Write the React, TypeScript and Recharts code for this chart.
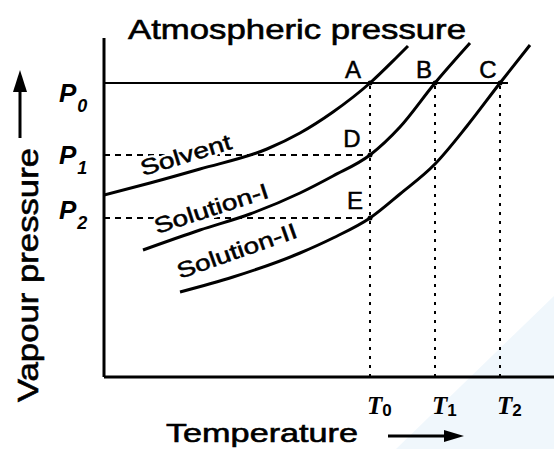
import React from "react";
import { LineChart, Line, XAxis, YAxis, ReferenceLine, ReferenceDot } from "recharts";

// boiling temperatures of solvent, solution-I, solution-II
const tempTicks = [266, 331, 396];
const tempSubs = ["0", "1", "2"];
// atmospheric pressure and vapour pressures at T0
const pressureTicks = [294, 222, 159];
const pressureSubs = ["0", "1", "2"];

// vapour pressure curves (temperature, pressure)
const solventT = [0, 46, 96, 163, 196, 229, 266, 293, 304];
const solventP = [182, 194, 208, 228, 244, 265, 294, 320, 331];
const solution1T = [39, 96, 146, 196, 229, 266, 296, 331, 366];
const solution1P = [127, 147, 163, 184, 201, 222, 250, 294, 334];
const solution2T = [76, 129, 196, 229, 266, 296, 331, 363, 396, 426];
const solution2P = [85, 100, 124, 139, 159, 183, 213, 251, 294, 332];

// curve captions and where they sit
const curveNames = ["Solvent", "Solution-I", "Solution-II"];
const curveLabelT = [39, 53, 76];
const curveLabelP = [201, 143, 98];

// lettered points
const pointNames = ["A", "B", "C", "D", "E"];
const pointT = [tempTicks[0], tempTicks[1], tempTicks[2], tempTicks[0], tempTicks[0]];
const pointP = [pressureTicks[0], pressureTicks[0], pressureTicks[0], pressureTicks[1], pressureTicks[2]];

const toRows = (ts: number[], ps: number[]) => ts.map((t, i) => ({ t, p: ps[i] }));
const solvent = toRows(solventT, solventP);
const solution1 = toRows(solution1T, solution1P);
const solution2 = toRows(solution2T, solution2P);

const sans = "'Liberation Sans', Arial, Helvetica, sans-serif";

const PTick = (props: any) => {
  const { y, payload } = props;
  const i = pressureTicks.indexOf(payload.value);
  const dy = [19, 9, 1][i] ?? 0;
  return (
    <text x={59} y={y + dy} fontFamily={sans} fontStyle="italic" fontWeight="bold" fontSize={26} fill="#000">
      P
      <tspan fontSize={18} dy={10} dx={1}>{pressureSubs[i]}</tspan>
    </text>
  );
};

const TTick = (props: any) => {
  const { x, payload } = props;
  const i = tempTicks.indexOf(payload.value);
  return (
    <text x={x - 3} y={414} fontFamily="'Liberation Serif', 'Times New Roman', serif" fontStyle="italic" fontWeight="bold" fontSize={25} fill="#000">
      T
      <tspan fontFamily={sans} fontStyle="normal" fontSize={17} dy={2}>{tempSubs[i]}</tspan>
    </text>
  );
};

const CurveLabel = (props: any) => {
  const { viewBox, caption, tilt, span } = props;
  const x = viewBox.x + (viewBox.width || 0) / 2;
  const y = viewBox.y + (viewBox.height || 0) / 2;
  const common = {
    transform: `translate(${x},${y}) rotate(${-tilt})`,
    fontFamily: sans,
    fontSize: 22,
    textLength: span,
    lengthAdjust: "spacingAndGlyphs",
  };
  return (
    <g>
      <text {...common} fill="#fff" stroke="#fff" strokeWidth={5} strokeLinejoin="round">
        {caption}
      </text>
      <text {...common} fill="#000" stroke="#000" strokeWidth={0.5}>
        {caption}
      </text>
    </g>
  );
};

const PointLabel = (props: any) => {
  const { viewBox, caption, shiftX, shiftY } = props;
  const x = viewBox.x + (viewBox.width || 0) / 2;
  const y = viewBox.y + (viewBox.height || 0) / 2;
  return (
    <text x={x + shiftX} y={y + shiftY} textAnchor="middle" fontFamily={sans} fontSize={24} fill="#000" stroke="#000" strokeWidth={0.5}>
      {caption}
    </text>
  );
};

const pointDx = [-17, -11, -12, -18, -15];
const pointDy = [-5, -5, -5, -8, -9];
const curveAngle = [17, 18, 19.5];
const curveLen = [94, 119, 126];

export default function App() {
  return (
    <div style={{ position: "absolute", left: 0, top: 0, width: 554, height: 449, background: "#fff", overflow: "hidden" }}>
      <svg width={554} height={449} style={{ position: "absolute", left: 0, top: 0 }}>
        <polygon points="396,449 554,296 554,449" fill="#f0f7fc" />
      </svg>
      <LineChart width={554} height={449} data={solvent} margin={{ top: 38, right: 0, bottom: 32, left: 44 }}>
        <XAxis
          dataKey="t"
          type="number"
          domain={[0, 450]}
          ticks={tempTicks}
          tick={<TTick />}
          tickLine={false}
          axisLine={{ stroke: "#000", strokeWidth: 3 }}
          height={40}
          allowDataOverflow
        />
        <YAxis
          dataKey="p"
          type="number"
          domain={[0, 339]}
          ticks={pressureTicks}
          tick={<PTick />}
          tickLine={false}
          axisLine={{ stroke: "#000", strokeWidth: 3 }}
          width={60}
          allowDataOverflow
        />
        <ReferenceLine
          segment={[{ x: 0, y: pressureTicks[0] }, { x: tempTicks[2] + 8, y: pressureTicks[0] }]}
          stroke="#000"
          strokeWidth={2}
        />
        {pressureTicks.slice(1).map((p) => (
          <ReferenceLine
            key={"h" + p}
            segment={[{ x: 0, y: p }, { x: tempTicks[0], y: p }]}
            stroke="#000"
            strokeWidth={2}
            strokeDasharray="6 5"
          />
        ))}
        {tempTicks.map((t) => (
          <ReferenceLine
            key={"v" + t}
            segment={[{ x: t, y: 0 }, { x: t, y: pressureTicks[0] }]}
            stroke="#000"
            strokeWidth={2}
            strokeDasharray="3 6"
          />
        ))}
        {curveNames.map((name, i) => (
          <ReferenceDot
            key={name}
            x={curveLabelT[i]}
            y={curveLabelP[i]}
            r={0}
            stroke="none"
            fill="none"
            label={<CurveLabel caption={name} tilt={curveAngle[i]} span={curveLen[i]} />}
          />
        ))}
        <Line data={solvent} dataKey="p" type="monotone" stroke="#000" strokeWidth={3} dot={false} isAnimationActive={false} />
        <Line data={solution1} dataKey="p" type="monotone" stroke="#000" strokeWidth={3} dot={false} isAnimationActive={false} />
        <Line data={solution2} dataKey="p" type="monotone" stroke="#000" strokeWidth={3} dot={false} isAnimationActive={false} />
        {pointNames.map((name, i) => (
          <ReferenceDot
            key={name}
            x={pointT[i]}
            y={pointP[i]}
            r={2.5}
            fill="#000"
            stroke="none"
            label={<PointLabel caption={name} shiftX={pointDx[i]} shiftY={pointDy[i]} />}
          />
        ))}
      </LineChart>
      <svg width={554} height={449} style={{ position: "absolute", left: 0, top: 0, pointerEvents: "none" }}>
        <text x={128} y={39} fontFamily={sans} fontSize={28} textLength={338} lengthAdjust="spacingAndGlyphs" fill="#000" stroke="#000" strokeWidth={0.6}>
          Atmospheric pressure
        </text>
        <text transform="translate(38,402) rotate(-90)" fontFamily={sans} fontSize={29} textLength={254} lengthAdjust="spacingAndGlyphs" fill="#000" stroke="#000" strokeWidth={0.6}>
          Vapour pressure
        </text>
        <line x1={20} y1={138} x2={20} y2={88} stroke="#000" strokeWidth={3} />
        <polygon points="20,70 13,92 27,92" fill="#000" />
        <text x={166} y={442} fontFamily={sans} fontSize={26} textLength={192} lengthAdjust="spacingAndGlyphs" fill="#000" stroke="#000" strokeWidth={0.6}>
          Temperature
        </text>
        <line x1={388} y1={436} x2={448} y2={436} stroke="#000" strokeWidth={3} />
        <polygon points="464,436 444,430 444,442" fill="#000" />
      </svg>
    </div>
  );
}
